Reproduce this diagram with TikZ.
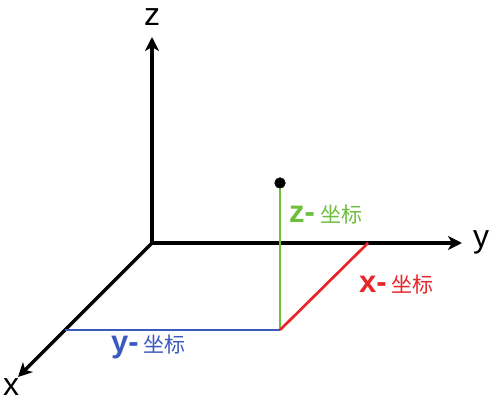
\documentclass[tikz,border=0pt]{standalone}
\usepackage{fontspec}
\setmainfont{Liberation Sans}
\newfontfamily\cjk{Noto Sans CJK SC}
\usetikzlibrary{arrows.meta}
\definecolor{zgreen}{RGB}{108,190,60}
\definecolor{xred}{RGB}{232,38,42}
\definecolor{yblue}{RGB}{60,90,190}
\tikzset{
  axis/.style={line width=3.5pt,-{Stealth[length=14pt,width=14pt,inset=4pt]}},
  coordline/.style={line width=2.7pt},
  axislabel/.style={anchor=base,inner sep=0pt,font=\fontsize{32}{32}\selectfont},
  coordlabel/.style={anchor=base west,inner sep=0pt},
}
\newcommand{\clab}[1]{{\fontsize{31}{31}\selectfont\bfseries #1}\hspace{5pt}{\cjk\fontsize{21}{21}\selectfont 坐标}}
\begin{document}
\begin{tikzpicture}[x=1pt,y=-1pt]
\useasboundingbox (0,0) rectangle (491,403);
\coordinate (O) at (152,243);
\coordinate (Zend) at (152,37);
\coordinate (Yend) at (462,243);
\coordinate (Xend) at (18,377);
\coordinate (F) at (280,330);
\coordinate (Fx) at (65,330);
\coordinate (Fy) at (368,243);
\node[circle,fill=black,inner sep=0pt,minimum size=11pt] (P) at (280,183) {};
% axes
\draw[axis] (O) -- (Zend);
\draw[axis] (O) -- (Yend);
\draw[axis] (O) -- (Xend);
% coordinate lines
\draw[coordline,zgreen] (P.center) -- (F);
\draw[coordline,yblue] (Fx) -- (F);
\draw[coordline,xred] (F) -- (Fy);
\node[circle,fill=black,inner sep=0pt,minimum size=11pt] at (P) {};
% axis labels
\node[axislabel] (zl) at (152,26) {z};
\node[axislabel] (yl) at (481,248) {y};
\node[axislabel] (xl) at (11,396) {x};
% coordinate labels
\node[coordlabel,text=zgreen] (zc) at (289,223) {\clab{z-}};
\node[coordlabel,text=xred] (xc) at (359,293) {\clab{x-}};
\node[coordlabel,text=yblue] (yc) at (111,353) {\clab{y-}};
\end{tikzpicture}
\end{document}
